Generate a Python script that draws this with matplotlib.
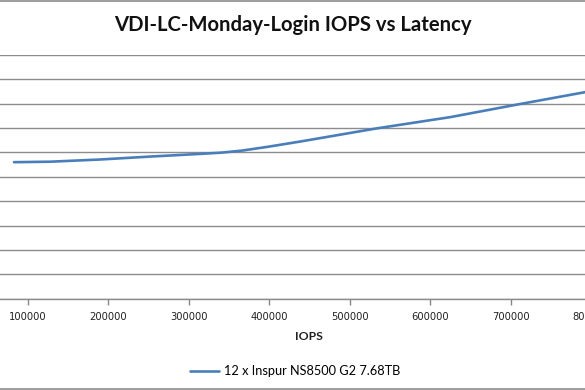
import matplotlib.pyplot as plt
from matplotlib.lines import Line2D

# IOPS vs latency (y scale is not visible in the crop; units of 0.1 per gridline)
iops = [83000, 128000, 190000, 252000, 314000, 340000, 365000, 398000, 439000,
        534000, 625000, 712000, 800000]
latency = [0.560, 0.562, 0.571, 0.583, 0.594, 0.599, 0.607, 0.623, 0.645,
           0.699, 0.745, 0.799, 0.852]
series_name = '12 x Inspur NS8500 G2 7.68TB'
xticks = [100000, 200000, 300000, 400000, 500000, 600000, 700000, 800000]
yticks = [0.1 * i for i in range(11)]

W, H = 585, 390
fig = plt.figure(figsize=(W / 100, H / 100), dpi=100)

# plot area runs past the left/right edge of the picture (cropped chart)
x0_px, x1_px = -52.8, 671.7
top_px, bot_px = 55.0, 298.6
ax = fig.add_axes([x0_px / W, 1 - bot_px / H, (x1_px - x0_px) / W, (bot_px - top_px) / H])

line, = ax.plot(iops, latency, color='#4a7ebb', lw=1.9, solid_capstyle='round',
                solid_joinstyle='round', label=series_name)

ax.set_xlim(0, 900000)
ax.set_ylim(0, 1.0)
ax.set_xticks(xticks, [str(t) for t in xticks])
ax.set_yticks(yticks)
ax.tick_params(axis='y', length=0, labelleft=False)
ax.tick_params(axis='x', direction='out', length=4, width=1, color='#868686',
               labelsize=7.2, labelcolor='#222222', pad=6)
ax.grid(axis='y', color='#8c8c8c', lw=1.0)
ax.set_axisbelow(True)
for s in ['top', 'right', 'left']:
    ax.spines[s].set_visible(False)
ax.spines['bottom'].set_color('#8c8c8c')
ax.spines['bottom'].set_linewidth(1.0)

fig.text(293 / W, 1 - 25 / H, 'VDI-LC-Monday-Login IOPS vs Latency', ha='center', va='center',
         fontsize=14.6, fontweight='bold', family='Lato', color='#111111')
fig.text(309 / W, 1 - 336 / H, 'IOPS', ha='center', va='center',
         fontsize=8.8, fontweight='bold', family='Lato', color='#222222')

fig.legend(handles=[line], loc='center', bbox_to_anchor=(295 / W, 1 - 371 / H),
           frameon=False, prop={'family': 'Lato', 'size': 9.2},
           handlelength=2.3, handletextpad=0.4)

# chart border (top and bottom edges visible in the crop)
fig.add_artist(Line2D([0, 1], [1 - 0.5 / H, 1 - 0.5 / H], color='#8c8c8c', lw=1.2))
fig.add_artist(Line2D([0, 1], [0.5 / H + 0.002, 0.5 / H + 0.002], color='#8c8c8c', lw=1.2))

plt.savefig('out.png', dpi=100)
